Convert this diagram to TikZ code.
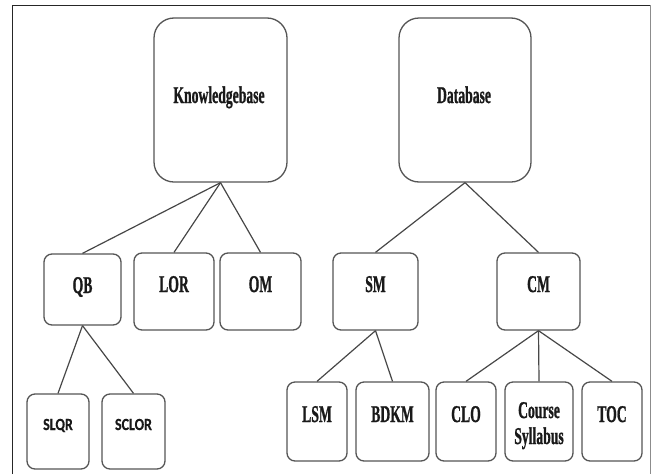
\documentclass[tikz,border=0pt]{standalone}
\usepackage{fontspec}
\setmainfont{Liberation Serif}
\newfontfamily\heavyserif{Liberation Serif}[BoldFeatures={FakeBold=1.3}]
\newfontfamily\carlfont{Carlito}[BoldFeatures={FakeBold=0.6}]
\usepackage{graphicx}
\newcommand\condtxt[1]{\scalebox{0.57}[1]{\heavyserif\fontsize{24}{26}\selectfont\bfseries #1}}
\newcommand\sanstxt[1]{\scalebox{0.82}[1]{\carlfont\fontsize{17}{19}\selectfont\bfseries #1}}
\definecolor{boxgray}{HTML}{555555}
\definecolor{linegray}{HTML}{474747}
\tikzset{
  box/.style={draw=boxgray, line width=1.3pt, rounded corners=8pt, inner sep=0pt},
  bigbox/.style={box, rounded corners=20pt},
  lbl/.style={anchor=base, inner sep=0pt, text=black!90},
  conn/.style={draw=linegray, line width=1.2pt},
  framel/.style={line width=1pt}
}
\begin{document}
\begin{tikzpicture}[x=1pt, y=-1pt]
\useasboundingbox[fill=white] (0,0) rectangle (652,474);
% frame
\draw[framel, draw=black!85] (12,474) -- (12,5) -- (650,5);
\draw[framel, draw=black!45] (650,5) -- (650,474);
% top level
\node[bigbox, minimum width=133pt, minimum height=164pt] (kb) at (220.5,100) {};
\node[bigbox, minimum width=132pt, minimum height=164pt] (db) at (465,100) {};
% second level
\node[box, minimum width=77pt, minimum height=71pt] (qb) at (82.5,289.5) {};
\node[box, minimum width=80pt, minimum height=77pt] (lor) at (174,291.5) {};
\node[box, minimum width=81pt, minimum height=77pt] (om) at (260.5,291.5) {};
\node[box, minimum width=85pt, minimum height=77pt] (sm) at (375.5,291.5) {};
\node[box, minimum width=83pt, minimum height=77pt] (cm) at (538.5,291.5) {};
% third level
\node[box, minimum width=62pt, minimum height=75pt] (slqr) at (58,431.5) {};
\node[box, minimum width=63pt, minimum height=75pt] (sclor) at (133.5,431.5) {};
\node[box, minimum width=60pt, minimum height=79pt] (lsm) at (317,421.5) {};
\node[box, minimum width=73pt, minimum height=79pt] (bdkm) at (392.5,421.5) {};
\node[box, minimum width=60pt, minimum height=79pt] (clo) at (466,421.5) {};
\node[box, minimum width=68pt, minimum height=79pt] (cs) at (539,421.5) {};
\node[box, minimum width=60pt, minimum height=79pt] (toc) at (612,421.5) {};
% labels
\node[lbl] (kbt) at (219,103) {\condtxt{Knowledgebase}};
\node[lbl] (dbt) at (464,103) {\condtxt{Database}};
\node[lbl] (qbt) at (82.5,293) {\condtxt{QB}};
\node[lbl] (lort) at (174,292) {\condtxt{LOR}};
\node[lbl] (omt) at (260.5,292) {\condtxt{OM}};
\node[lbl] (smt) at (375.5,292) {\condtxt{SM}};
\node[lbl] (cmt) at (538.5,292) {\condtxt{CM}};
\node[lbl] (slqrt) at (58,430) {\sanstxt{SLQR}};
\node[lbl] (sclort) at (133.5,430) {\sanstxt{SCLOR}};
\node[lbl] (lsmt) at (317,422) {\condtxt{LSM}};
\node[lbl] (bdkmt) at (392.5,422) {\condtxt{BDKM}};
\node[lbl] (clot) at (466,422) {\condtxt{CLO}};
\node[lbl] (cst1) at (539,418) {\condtxt{Course}};
\node[lbl] (cst2) at (539,444) {\condtxt{Syllabus}};
\node[lbl] (toct) at (612,422) {\condtxt{TOC}};
% connectors
\draw[conn] (kb.south) -- (qb.north);
\draw[conn] (kb.south) -- (lor.north);
\draw[conn] (kb.south) -- (om.north);
\draw[conn] (db.south) -- (sm.north);
\draw[conn] (db.south) -- (cm.north);
\draw[conn] (qb.south) -- (slqr.north);
\draw[conn] (qb.south) -- (sclor.north);
\draw[conn] (sm.south) -- (lsm.north);
\draw[conn] (sm.south) -- (bdkm.north);
\draw[conn] (cm.south) -- (clo.north);
\draw[conn] (cm.south) -- (cs.north);
\draw[conn] (cm.south) -- (toc.north);
\end{tikzpicture}
\end{document}
